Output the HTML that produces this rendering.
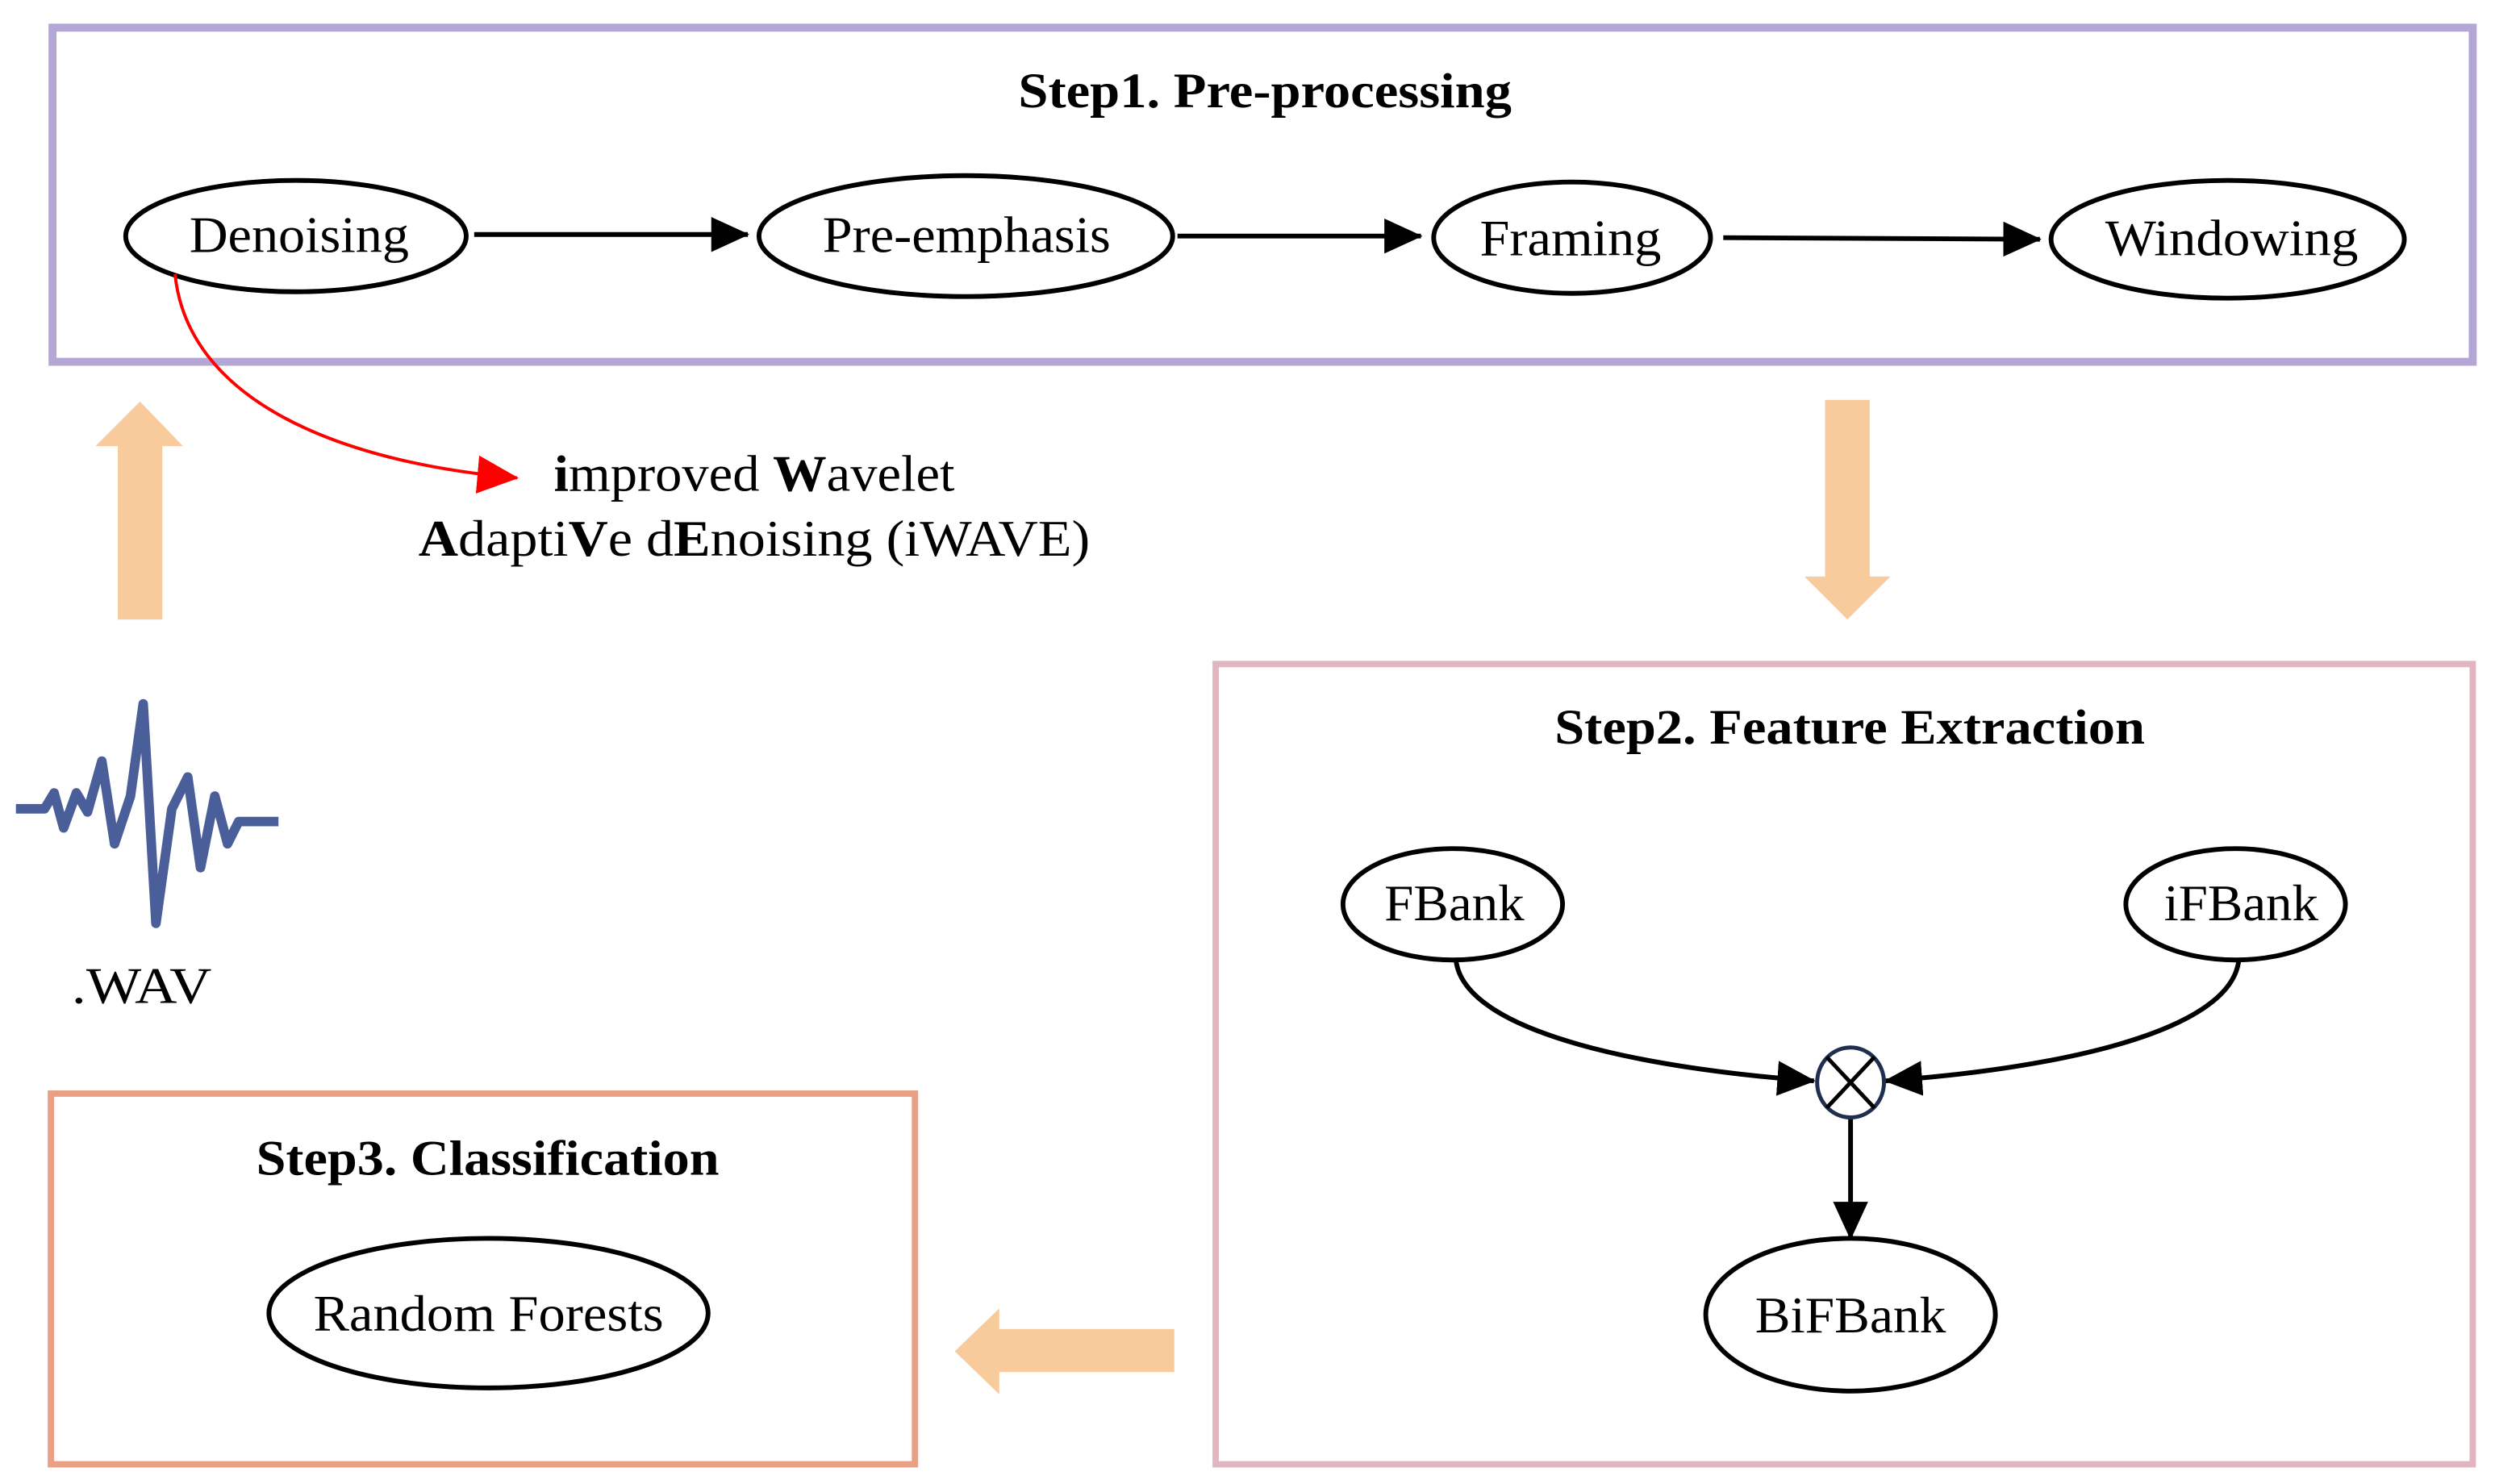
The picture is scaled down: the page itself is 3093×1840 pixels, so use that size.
<!DOCTYPE html>
<html><head><meta charset="utf-8"><style>html,body{margin:0;padding:0;background:#fff}svg{display:block}</style></head>
<body>
<svg width="3093" height="1840" viewBox="0 0 1568 932" xmlns="http://www.w3.org/2000/svg" font-family="Liberation Serif, serif">
<defs>
<marker id="ab2" markerWidth="24" markerHeight="22" refX="23" refY="11" orient="auto" markerUnits="userSpaceOnUse"><path d="M0,0 L24,11 L0,22 Z" fill="#000"/></marker>
<marker id="ar" markerWidth="26" markerHeight="24" refX="25" refY="12" orient="auto" markerUnits="userSpaceOnUse"><path d="M0,0 L26,12 L0,24 Z" fill="#f00"/></marker>
</defs>
<rect x="33" y="17" width="1521" height="210" fill="none" stroke="#b4a7d6" stroke-width="5"/>
<text x="640" y="67" font-size="31" font-weight="bold" textLength="310" lengthAdjust="spacingAndGlyphs">Step1. Pre-processing</text>
<g fill="none" stroke="#000" stroke-width="3">
<ellipse cx="186" cy="148" rx="107" ry="35"/>
<ellipse cx="607" cy="148" rx="130" ry="38"/>
<ellipse cx="988" cy="149" rx="87" ry="35"/>
<ellipse cx="1400" cy="150" rx="111" ry="37"/>
<line x1="298" y1="147" x2="470" y2="147" marker-end="url(#ab2)"/>
<line x1="740" y1="148" x2="893" y2="148" marker-end="url(#ab2)"/>
<line x1="1083" y1="149" x2="1282" y2="150" marker-end="url(#ab2)"/>
</g>
<g font-size="32" lengthAdjust="spacingAndGlyphs">
<text x="119" y="158" textLength="138" lengthAdjust="spacingAndGlyphs">Denoising</text>
<text x="517" y="158" textLength="181" lengthAdjust="spacingAndGlyphs">Pre-emphasis</text>
<text x="930" y="160" textLength="114" lengthAdjust="spacingAndGlyphs">Framing</text>
<text x="1323" y="160" textLength="159" lengthAdjust="spacingAndGlyphs">Windowing</text>
</g>
<path d="M110,172 C118,250 210,290 325,300" fill="none" stroke="#f00" stroke-width="2" marker-end="url(#ar)"/>
<text x="348" y="308" font-size="32" textLength="252" lengthAdjust="spacingAndGlyphs"><tspan font-weight="bold">i</tspan>mproved <tspan font-weight="bold">W</tspan>avelet</text>
<text x="263" y="349" font-size="32" textLength="422" lengthAdjust="spacingAndGlyphs"><tspan font-weight="bold">A</tspan>dapti<tspan font-weight="bold">V</tspan>e d<tspan font-weight="bold">E</tspan>noising (iWAVE)</text>
<g fill="#f8cb9c">
<polygon points="74,389 102,389 102,280 115,280 88,252 60,280 74,280"/>
<polygon points="1147,251 1175,251 1175,362 1188,362 1161,389 1134,362 1147,362"/>
<polygon points="738,835 738,862 628,862 628,876 600,849 628,822 628,835"/>
</g>
<polyline points="10,508 28,508 34,498 40,520 48,498 55,510 64,478 72,530 82,500 90,442 98,580 108,508 118,488 126,545 135,500 143,530 150,516 175,516" fill="none" stroke="#4a5f9a" stroke-width="6" stroke-linejoin="round"/>
<text x="45" y="630" font-size="32" textLength="88" lengthAdjust="spacingAndGlyphs">.WAV</text>
<rect x="764" y="417" width="790" height="503" fill="none" stroke="#e0b6c0" stroke-width="4"/>
<text x="977" y="467" font-size="31" font-weight="bold" textLength="371" lengthAdjust="spacingAndGlyphs">Step2. Feature Extraction</text>
<g fill="none" stroke="#000" stroke-width="3">
<ellipse cx="913" cy="568" rx="69" ry="35"/>
<ellipse cx="1405" cy="568" rx="69" ry="35"/>
<ellipse cx="1163" cy="826" rx="91" ry="48"/>
<path d="M915,603 C920,650 1040,672 1140,679" marker-end="url(#ab2)"/>
<path d="M1407,603 C1402,650 1285,672 1185,679" marker-end="url(#ab2)"/>
<line x1="1163" y1="702" x2="1163" y2="778" marker-end="url(#ab2)"/>
</g>
<ellipse cx="1163" cy="680" rx="21" ry="22" fill="none" stroke="#1f2f4f" stroke-width="2.5"/>
<line x1="1148" y1="664" x2="1178" y2="696" stroke="#000" stroke-width="2.5"/>
<line x1="1178" y1="664" x2="1148" y2="696" stroke="#000" stroke-width="2.5"/>
<g font-size="32">
<text x="870" y="578" textLength="88" lengthAdjust="spacingAndGlyphs">FBank</text>
<text x="1360" y="578" textLength="97" lengthAdjust="spacingAndGlyphs">iFBank</text>
<text x="1103" y="837" textLength="120" lengthAdjust="spacingAndGlyphs">BiFBank</text>
</g>
<rect x="32" y="687" width="543" height="233" fill="none" stroke="#e9a084" stroke-width="4"/>
<text x="161" y="738" font-size="31" font-weight="bold" textLength="291" lengthAdjust="spacingAndGlyphs">Step3. Classification</text>
<ellipse cx="307" cy="825" rx="138" ry="47" fill="none" stroke="#000" stroke-width="3"/>
<text x="197" y="836" font-size="32" textLength="220" lengthAdjust="spacingAndGlyphs">Random Forests</text>
</svg>
</body></html>
